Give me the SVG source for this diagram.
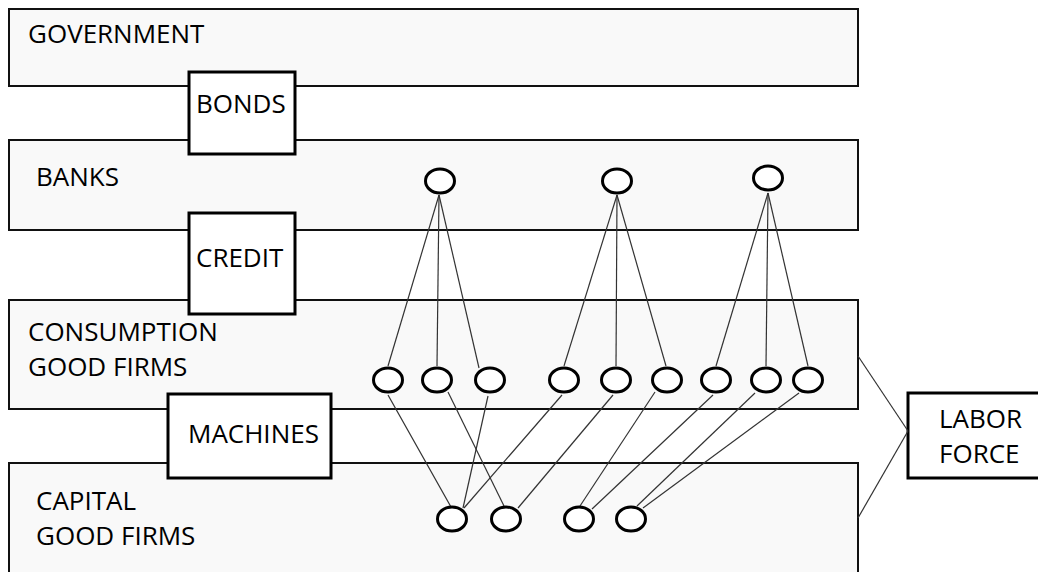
<svg xmlns="http://www.w3.org/2000/svg" width="1038" height="572" viewBox="0 0 1038 572">
<style>
.layer{fill:#f9f9f9;stroke:#111;stroke-width:2}
.box{fill:#fff;stroke:#000;stroke-width:3}
.node{fill:#fff;stroke:#000;stroke-width:3}
.t{font-family:"Open Sans","Liberation Sans",sans-serif;font-size:26px;fill:#000}
.c{stroke:#333;stroke-width:1.2;fill:none}
</style>
<rect width="1038" height="572" fill="#fff"/>
<g id="government"><rect class="layer" x="9" y="9" width="849" height="77"/><text class="t" x="28" y="43">GOVERNMENT</text></g>
<g id="banks"><rect class="layer" x="9" y="140" width="849" height="90"/><text class="t" x="36" y="186">BANKS</text></g>
<g id="consumption"><rect class="layer" x="9" y="300" width="849" height="109"/><text class="t" x="28" y="341">CONSUMPTION</text><text class="t" x="28" y="376">GOOD FIRMS</text></g>
<g id="capital"><rect class="layer" x="9" y="463" width="849" height="120"/><text class="t" x="36" y="510">CAPITAL</text><text class="t" x="36" y="545">GOOD FIRMS</text></g>
<g id="bonds"><rect class="box" x="189" y="72" width="106" height="82"/><text class="t" x="196" y="113">BONDS</text></g>
<g id="credit"><rect class="box" x="189" y="213" width="106" height="101"/><text class="t" x="196" y="267">CREDIT</text></g>
<g id="machines"><rect class="box" x="168" y="394" width="163" height="84"/><text class="t" x="188" y="443">MACHINES</text></g>
<g id="labor-force"><rect class="box" x="908" y="393" width="140" height="85"/><text class="t" x="939" y="428">LABOR</text><text class="t" x="939" y="463">FORCE</text></g>
<g id="connectors">
<line class="c" x1="858" y1="356" x2="908" y2="431"/>
<line class="c" x1="858" y1="518" x2="908" y2="431"/>
<line class="c" x1="439" y1="195" x2="388" y2="366"/>
<line class="c" x1="439" y1="195" x2="437" y2="366"/>
<line class="c" x1="439" y1="195" x2="479" y2="368"/>
<line class="c" x1="617" y1="195" x2="564" y2="366"/>
<line class="c" x1="617" y1="195" x2="616" y2="366"/>
<line class="c" x1="617" y1="195" x2="666" y2="366"/>
<line class="c" x1="768" y1="193" x2="716" y2="366"/>
<line class="c" x1="768" y1="193" x2="766" y2="366"/>
<line class="c" x1="768" y1="193" x2="808" y2="366"/>
<line class="c" x1="388" y1="395" x2="451" y2="507"/>
<line class="c" x1="448" y1="392" x2="504" y2="506"/>
<line class="c" x1="488" y1="396" x2="463" y2="508"/>
<line class="c" x1="562" y1="395" x2="464" y2="508"/>
<line class="c" x1="613" y1="395" x2="518" y2="508"/>
<line class="c" x1="655" y1="392" x2="580" y2="506"/>
<line class="c" x1="713" y1="395" x2="592" y2="509"/>
<line class="c" x1="755" y1="393" x2="637" y2="506"/>
<line class="c" x1="799" y1="393" x2="643" y2="508"/>
</g>
<g id="bank-nodes">
<ellipse class="node" cx="440" cy="181" rx="14.5" ry="12"/>
<ellipse class="node" cx="617" cy="181" rx="14.5" ry="12"/>
<ellipse class="node" cx="768" cy="178" rx="14.5" ry="12"/>
</g>
<g id="consumption-nodes">
<ellipse class="node" cx="388" cy="380" rx="14.5" ry="12"/>
<ellipse class="node" cx="437" cy="380" rx="14.5" ry="12"/>
<ellipse class="node" cx="490" cy="380" rx="14.5" ry="12"/>
<ellipse class="node" cx="564" cy="380" rx="14.5" ry="12"/>
<ellipse class="node" cx="616" cy="380" rx="14.5" ry="12"/>
<ellipse class="node" cx="667" cy="380" rx="14.5" ry="12"/>
<ellipse class="node" cx="716" cy="380" rx="14.5" ry="12"/>
<ellipse class="node" cx="766" cy="380" rx="14.5" ry="12"/>
<ellipse class="node" cx="808" cy="380" rx="14.5" ry="12"/>
</g>
<g id="capital-nodes">
<ellipse class="node" cx="452" cy="519" rx="14.5" ry="12"/>
<ellipse class="node" cx="506" cy="519" rx="14.5" ry="12"/>
<ellipse class="node" cx="579" cy="519" rx="14.5" ry="12"/>
<ellipse class="node" cx="631" cy="519" rx="14.5" ry="12"/>
</g>
</svg>
